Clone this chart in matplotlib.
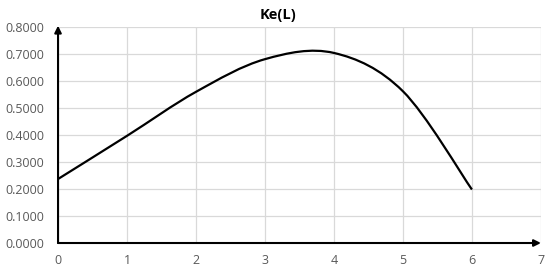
import matplotlib
matplotlib.use('Agg')
import matplotlib.pyplot as plt
from matplotlib.path import Path
from matplotlib.patches import PathPatch
import numpy as np

plt.rcParams['font.family'] = ['Open Sans', 'DejaVu Sans']

L = [0, 1, 2, 3, 4, 5, 6]
ke = [0.237, 0.397, 0.560, 0.681, 0.704, 0.562, 0.198]
xticks = [0, 1, 2, 3, 4, 5, 6, 7]
yticks = [0.0, 0.1, 0.2, 0.3, 0.4, 0.5, 0.6, 0.7, 0.8]

grey = '#595959'

fig = plt.figure(figsize=(5.5, 2.72), dpi=100)
ax = fig.add_axes([0.1055, 0.1066, 0.878, 0.794])

# excel style smoothed line: bezier segments through the points
x = np.array(L, dtype=float)
y = np.array(ke)
n = len(x)
verts = [(x[0], y[0])]
codes = [Path.MOVETO]
for i in range(n - 1):
    xm, ym = (x[i - 1], y[i - 1]) if i > 0 else (x[i], y[i])
    xp, yp = (x[i + 2], y[i + 2]) if i + 2 < n else (x[i + 1], y[i + 1])
    c1 = (x[i] + (x[i + 1] - xm) / 6, y[i] + (y[i + 1] - ym) / 6)
    c2 = (x[i + 1] - (xp - x[i]) / 6, y[i + 1] - (yp - y[i]) / 6)
    verts += [c1, c2, (x[i + 1], y[i + 1])]
    codes += [Path.CURVE4] * 3
ax.add_patch(PathPatch(Path(verts, codes), fill=False, lw=1.6, color='black',
                       capstyle='butt', zorder=3))

ax.set_xlim(0, 7)
ax.set_ylim(0, 0.8)
ax.set_xticks(xticks)
ax.set_yticks(yticks)
ax.set_yticklabels(['%.4f' % v for v in yticks])
ax.grid(True, color='#d9d9d9', lw=0.9)
ax.set_axisbelow(True)
for s in ax.spines.values():
    s.set_visible(False)
ax.tick_params(length=0, labelsize=9, colors=grey, pad=8)
ax.tick_params(axis='y', pad=10)

# axis arrows
ax.annotate('', xy=(7.0, 0), xytext=(0, 0), annotation_clip=False,
            arrowprops=dict(arrowstyle='-|>', color='black', lw=1.5,
                            mutation_scale=10, shrinkA=0, shrinkB=0))
ax.annotate('', xy=(0, 0.805), xytext=(0, 0), annotation_clip=False,
            arrowprops=dict(arrowstyle='-|>', color='black', lw=1.5,
                            mutation_scale=10, shrinkA=0, shrinkB=0))

fig.text(0.505, 0.945, 'Ke(L)', ha='center', va='center', fontsize=10.5,
         fontweight='bold', color='black')

fig.savefig('out.png', dpi=100)
